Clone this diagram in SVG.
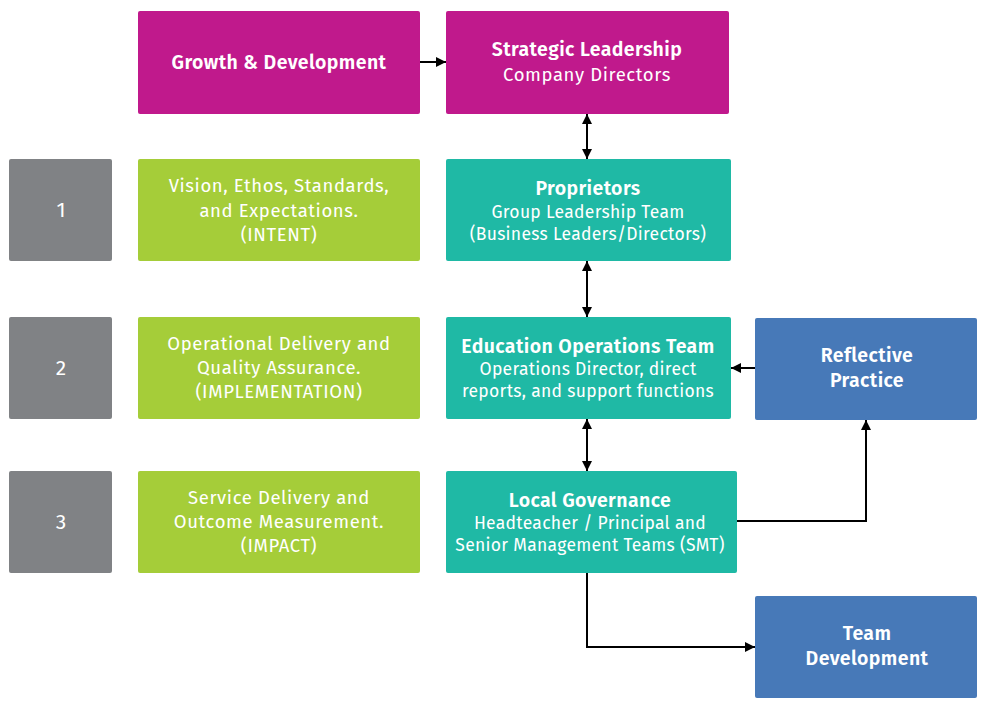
<svg xmlns="http://www.w3.org/2000/svg" width="986" height="714" viewBox="0 0 986 714">
<defs>
<marker id="ah" viewBox="0 0 10 10" refX="10" refY="5" markerWidth="10" markerHeight="10" markerUnits="userSpaceOnUse" orient="auto-start-reverse">
<path d="M0,0 L10,5 L0,10 Z" fill="#000"/>
</marker>
<style>
text{font-family:"Fira Sans","Noto Sans","Open Sans",sans-serif;fill:#fff;text-anchor:middle}
.b{font-weight:600;font-size:19.5px;letter-spacing:0.4px}
.r{font-weight:400;font-size:18.5px;letter-spacing:0.6px}
.rs{font-weight:400;font-size:17.5px;letter-spacing:0.3px}
.n{font-size:21px}
.mag{fill:#C0198C}
.teal{fill:#1FB9A5}
.grn{fill:#A5CD39}
.gry{fill:#808285}
.blu{fill:#4779B8}
.c{fill:none;stroke:#000;stroke-width:2}
</style>
</defs>
<g id="connectors">
<line class="c" x1="420" y1="62" x2="446" y2="62" marker-end="url(#ah)"/>
<line class="c" x1="587" y1="114" x2="587" y2="159" marker-start="url(#ah)" marker-end="url(#ah)"/>
<line class="c" x1="587" y1="261" x2="587" y2="317" marker-start="url(#ah)" marker-end="url(#ah)"/>
<line class="c" x1="587" y1="419" x2="587" y2="471" marker-start="url(#ah)" marker-end="url(#ah)"/>
<line class="c" x1="755" y1="368" x2="731" y2="368" marker-end="url(#ah)"/>
<polyline class="c" points="737,521 866,521 866,420" marker-end="url(#ah)"/>
<polyline class="c" points="587,573 587,647 755,647" marker-end="url(#ah)"/>
</g>
<g id="growth">
<rect class="mag" x="138" y="11" width="282" height="103" rx="2"/>
<text class="b" x="279" y="69">Growth &amp; Development</text>
</g>
<g id="strategic">
<rect class="mag" x="446" y="11" width="283" height="103" rx="2"/>
<text class="b" x="587" y="56">Strategic Leadership</text>
<text class="r" x="587" y="81">Company Directors</text>
</g>
<g id="num1">
<rect class="gry" x="9" y="159" width="103" height="102" rx="2"/>
<text class="n" x="61" y="217">1</text>
</g>
<g id="num2">
<rect class="gry" x="9" y="317" width="103" height="102" rx="2"/>
<text class="n" x="61" y="375">2</text>
</g>
<g id="num3">
<rect class="gry" x="9" y="471" width="103" height="102" rx="2"/>
<text class="n" x="61" y="529">3</text>
</g>
<g id="intent">
<rect class="grn" x="138" y="159" width="282" height="102" rx="2"/>
<text class="r" x="279" y="192">Vision, Ethos, Standards,</text>
<text class="r" x="279" y="217">and Expectations.</text>
<text class="r" x="279" y="241">(INTENT)</text>
</g>
<g id="implementation">
<rect class="grn" x="138" y="317" width="282" height="102" rx="2"/>
<text class="r" x="279" y="350">Operational Delivery and</text>
<text class="r" x="279" y="374">Quality Assurance.</text>
<text class="r" x="279" y="398">(IMPLEMENTATION)</text>
</g>
<g id="impact">
<rect class="grn" x="138" y="471" width="282" height="102" rx="2"/>
<text class="r" x="279" y="504">Service Delivery and</text>
<text class="r" x="279" y="528">Outcome Measurement.</text>
<text class="r" x="279" y="552">(IMPACT)</text>
</g>
<g id="proprietors">
<rect class="teal" x="446" y="159" width="285" height="102" rx="2"/>
<text class="b" x="588" y="195">Proprietors</text>
<text class="rs" x="588" y="218">Group Leadership Team</text>
<text class="rs" x="588" y="240">(Business Leaders/Directors)</text>
</g>
<g id="eduops">
<rect class="teal" x="446" y="317" width="285" height="102" rx="2"/>
<text class="b" x="588" y="353">Education Operations Team</text>
<text class="rs" x="588" y="375">Operations Director, direct</text>
<text class="rs" x="588" y="397">reports, and support functions</text>
</g>
<g id="reflective">
<rect class="blu" x="755" y="318" width="222" height="102" rx="2"/>
<text class="b" x="867" y="362">Reflective</text>
<text class="b" x="867" y="387">Practice</text>
</g>
<g id="localgov">
<rect class="teal" x="446" y="471" width="291" height="102" rx="2"/>
<text class="b" x="590" y="507">Local Governance</text>
<text class="rs" x="590" y="529">Headteacher / Principal and</text>
<text class="rs" x="590" y="551">Senior Management Teams (SMT)</text>
</g>
<g id="teamdev">
<rect class="blu" x="755" y="596" width="222" height="102" rx="2"/>
<text class="b" x="867" y="640">Team</text>
<text class="b" x="867" y="665">Development</text>
</g>
</svg>
